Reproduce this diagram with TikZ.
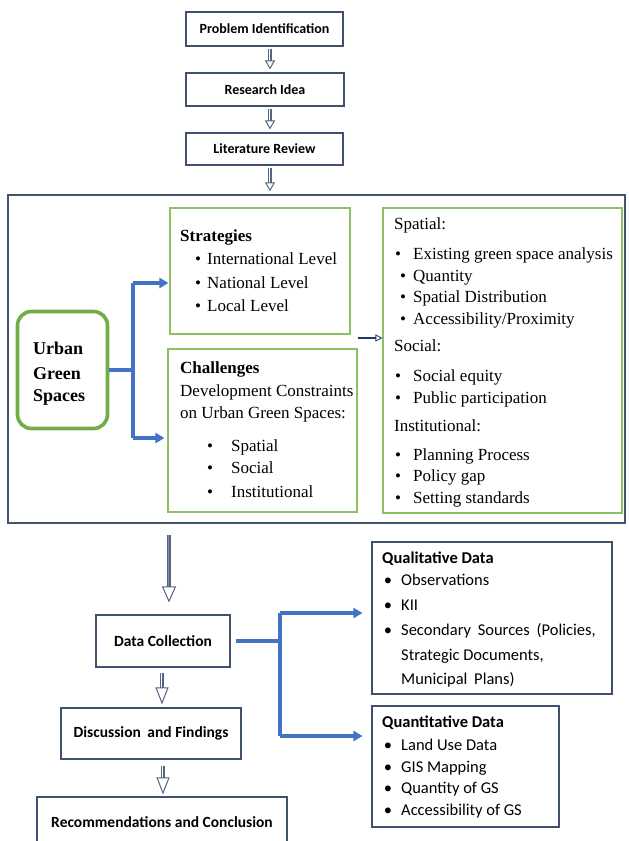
\documentclass[tikz,border=0pt]{standalone}
\usepackage{fontspec}
\setmainfont{Liberation Serif}
\newfontfamily\calfont{Carlito}
\usetikzlibrary{arrows.meta}
\definecolor{frameC}{RGB}{68,84,106}
\definecolor{boxC}{RGB}{65,80,110}
\definecolor{grn}{RGB}{112,173,71}
\definecolor{lgrn}{RGB}{140,192,99}
\definecolor{blu}{RGB}{68,114,196}
\definecolor{navy}{RGB}{31,56,100}
\definecolor{arrC}{RGB}{85,100,128}
\definecolor{shaftC}{RGB}{130,142,165}
\begin{document}
\begin{tikzpicture}[x=1pt,y=-1pt,
  flowbox/.style={draw=boxC, line width=1.1pt, inner sep=0pt, font=\calfont\bfseries\fontsize{14}{16}\selectfont},
  lowbox/.style={flowbox, font=\calfont\bfseries\fontsize{15.5}{18}\selectfont},
  gbox/.style={draw=lgrn, line width=1.1pt, inner sep=0pt},
  dbox/.style={draw=boxC, line width=1.1pt, inner sep=0pt},
  ser/.style={anchor=base west, inner sep=0pt, font=\fontsize{17}{20}\selectfont},
  serb/.style={anchor=base, inner sep=0pt, font=\fontsize{17}{20}\selectfont},
  cal/.style={anchor=base west, inner sep=0pt, font=\calfont\fontsize{16.5}{20}\selectfont},
  calb/.style={anchor=base, inner sep=0pt, font=\calfont\fontsize{16.5}{20}\selectfont},
  smallhead/.style={draw=arrC, line width=0.1pt, -{Triangle[open, length=9pt, width=10pt, line width=1pt]}},
  smallshaft/.style={draw=arrC, line width=0.8pt, double=white, double distance=1.8pt},
  midhead/.style={draw=arrC, line width=0.1pt, -{Triangle[open, length=17pt, width=13pt, line width=1pt]}},
  midshaft/.style={draw=arrC, line width=0.8pt, double=white, double distance=2.6pt},
  bighead/.style={draw=arrC, line width=0.1pt, -{Triangle[open, length=16pt, width=14pt, line width=1pt]}},
  bigshaft/.style={draw=arrC, line width=0.8pt, double=shaftC, double distance=2.6pt},
  bluln/.style={draw=blu, line width=3.2pt},
  bluarr/.style={draw=blu, line width=3.2pt, -{Triangle[length=9pt, width=10pt]}},
  navarr/.style={draw=navy, line width=1.2pt, -{Triangle[open, length=7pt, width=7pt, line width=0.8pt]}}
]
\clip (0,0) rectangle (629,841);
\fill[white] (0,0) rectangle (629,841);

% top flow
\node[flowbox, minimum width=157pt, minimum height=34pt] (pi) at (264.5,29) {Problem Identification};
\node[flowbox, minimum width=158pt, minimum height=33pt] (ri) at (265,89.5) {Research Idea};
\node[flowbox, minimum width=157pt, minimum height=32pt] (lr) at (264.5,149) {Literature Review};
\coordinate (ax) at (270,0);
\draw[smallshaft, shorten <=2pt, shorten >=11pt] (pi.south -| ax) -- (ri.north -| ax);
\draw[smallhead, shorten <=2pt, shorten >=3pt] (pi.south -| ax) -- (ri.north -| ax);
\draw[smallshaft, shorten <=2pt, shorten >=11pt] (ri.south -| ax) -- (lr.north -| ax);
\draw[smallhead, shorten <=2pt, shorten >=3pt] (ri.south -| ax) -- (lr.north -| ax);

% big frame
\node[draw=frameC, line width=1.4pt, minimum width=617pt, minimum height=328pt, inner sep=0pt] (fr) at (316.5,359) {};
\draw[smallshaft, shorten <=2pt, shorten >=11pt] (lr.south -| ax) -- (fr.north -| ax);
\draw[smallhead, shorten <=2pt, shorten >=3pt] (lr.south -| ax) -- (fr.north -| ax);

% urban green spaces
\node[draw=grn, line width=3.6pt, rounded corners=14pt, minimum width=90pt, minimum height=117pt, inner sep=0pt] (ugs) at (62.5,370) {};
\node[anchor=base west, inner sep=0pt, font=\bfseries\fontsize{18}{22}\selectfont] (ugs1) at (33,354) {Urban};
\node[anchor=base west, inner sep=0pt, font=\bfseries\fontsize{18}{22}\selectfont] (ugs2) at (33,379) {Green};
\node[anchor=base west, inner sep=0pt, font=\bfseries\fontsize{18}{22}\selectfont] (ugs3) at (33,401) {Spaces};

% strategies
\node[gbox, minimum width=180pt, minimum height=126pt] (str) at (260,271) {};
\node[ser, font=\bfseries\fontsize{17}{20}\selectfont] (s0) at (180,241) {Strategies};
\node[serb] (sb1) at (198,264) {•};
\node[ser] (s1) at (207,264) {International Level};
\node[serb] (sb2) at (198,288) {•};
\node[ser] (s2) at (207,288) {National Level};
\node[serb] (sb3) at (198,311) {•};
\node[ser] (s3) at (207,311) {Local Level};

% challenges
\node[gbox, minimum width=189pt, minimum height=163pt] (ch) at (262.5,430.5) {};
\node[ser, font=\bfseries\fontsize{17}{20}\selectfont] (c0) at (180,373) {Challenges};
\node[ser] (c1) at (180,396) {Development Constraints};
\node[ser] (c2) at (180,418) {on Urban Green Spaces:};
\node[serb] (cb3) at (210,451) {•};
\node[ser] (c3) at (231,451) {Spatial};
\node[serb] (cb4) at (210,473) {•};
\node[ser] (c4) at (231,473) {Social};
\node[serb] (cb5) at (210,497) {•};
\node[ser] (c5) at (231,497) {Institutional};

% blue connectors (top)
\coordinate (jt) at (133,283);
\coordinate (jb) at (133,438);
\draw[bluln] (ugs.east) -- (ugs.east -| jt);
\draw[bluln] (jt) -- (jb);
\draw[bluarr, shorten >=1pt] (jt) -- (jt -| str.west);
\draw[bluarr, shorten >=3pt] (jb) -- (jb -| ch.west);

% right box
\node[gbox, minimum width=239pt, minimum height=305pt] (rb) at (502.5,360.5) {};
\coordinate (na) at (358,338);
\draw[navarr] (na) -- (na -| rb.west);
\node[ser] (r0) at (394,229) {Spatial:};
\node[serb] (rb1) at (398,259) {•};
\node[ser] (r1) at (413,259) {Existing green space analysis};
\node[serb] (rb2) at (403,281) {•};
\node[ser] (r2) at (413,281) {Quantity};
\node[serb] (rb3) at (403,302) {•};
\node[ser] (r3) at (413,302) {Spatial Distribution};
\node[serb] (rb4) at (403,324) {•};
\node[ser] (r4) at (413,324) {Accessibility/Proximity};
\node[ser] (r5) at (394,351) {Social:};
\node[serb] (rb6) at (398,381) {•};
\node[ser] (r6) at (413,381) {Social equity};
\node[serb] (rb7) at (398,403) {•};
\node[ser] (r7) at (413,403) {Public participation};
\node[ser] (r8) at (394,431) {Institutional:};
\node[serb] (rb9) at (398,460) {•};
\node[ser] (r9) at (413,460) {Planning Process};
\node[serb] (rb10) at (398,481) {•};
\node[ser] (r10) at (413,481) {Policy gap};
\node[serb] (rb11) at (398,503) {•};
\node[ser] (r11) at (413,503) {Setting standards};

% lower flow
\node[lowbox, minimum width=134pt, minimum height=52pt] (dc) at (163,641) {Data Collection};
\node[lowbox, minimum width=180pt, minimum height=51pt] (df) at (151,733.5) {Discussion\hspace{3pt} and Findings};
\node[lowbox, minimum width=250pt, minimum height=50pt] (rc) at (162,822) {Recommendations and Conclusion};

\coordinate (ba) at (169,535);
\draw[bigshaft, shorten >=27pt] (ba) -- (ba |- dc.north);
\draw[bighead, shorten >=12pt] (ba) -- (ba |- dc.north);
\coordinate (bx) at (162,0);
\draw[midshaft, shorten <=5pt, shorten >=19pt] (dc.south -| bx) -- (df.north -| bx);
\draw[midhead, shorten <=5pt, shorten >=3pt] (dc.south -| bx) -- (df.north -| bx);
\coordinate (bx2) at (163,0);
\draw[midshaft, shorten <=6pt, shorten >=18pt] (df.south -| bx2) -- (rc.north -| bx2);
\draw[midhead, shorten <=6pt, shorten >=2pt] (df.south -| bx2) -- (rc.north -| bx2);

% qualitative / quantitative
\node[dbox, minimum width=240pt, minimum height=152pt] (ql) at (492,618) {};
\node[dbox, minimum width=187pt, minimum height=121pt] (qn) at (465.5,766.5) {};

\node[cal, font=\calfont\bfseries\fontsize{16.5}{20}\selectfont] (q0) at (382,563.5) {Qualitative Data};
\node[calb] (qb1) at (388,585.5) {•};
\node[cal] (q1) at (401,585.5) {Observations};
\node[calb] (qb2) at (388,610.5) {•};
\node[cal] (q2) at (401,610.5) {KII};
\node[calb] (qb3) at (388,635.5) {•};
\node[cal] (q3) at (401,635.5) {Secondary\hspace{3pt} Sources\hspace{3pt} (Policies,};
\node[cal] (q4) at (401,660.5) {Strategic Documents,};
\node[cal] (q5) at (401,684.5) {Municipal\hspace{3pt} Plans)};

\node[cal, font=\calfont\bfseries\fontsize{16.5}{20}\selectfont] (n0) at (382,727.5) {Quantitative Data};
\node[calb] (nb1) at (388,750.5) {•};
\node[cal] (n1) at (401,750.5) {Land Use Data};
\node[calb] (nb2) at (388,772.5) {•};
\node[cal] (n2) at (401,772.5) {GIS Mapping};
\node[calb] (nb3) at (388,793.5) {•};
\node[cal] (n3) at (401,793.5) {Quantity of GS};
\node[calb] (nb4) at (388,815.5) {•};
\node[cal] (n4) at (401,815.5) {Accessibility of GS};

% blue connectors (bottom)
\coordinate (kt) at (280,613);
\coordinate (kb) at (280,736);
\draw[bluln, shorten <=5pt] (dc.east) -- (dc.east -| kt);
\draw[bluln] (kt) -- (kb);
\draw[bluarr, shorten >=9pt] (kt) -- (kt -| ql.west);
\draw[bluarr, shorten >=9pt] (kb) -- (kb -| qn.west);
\end{tikzpicture}
\end{document}
